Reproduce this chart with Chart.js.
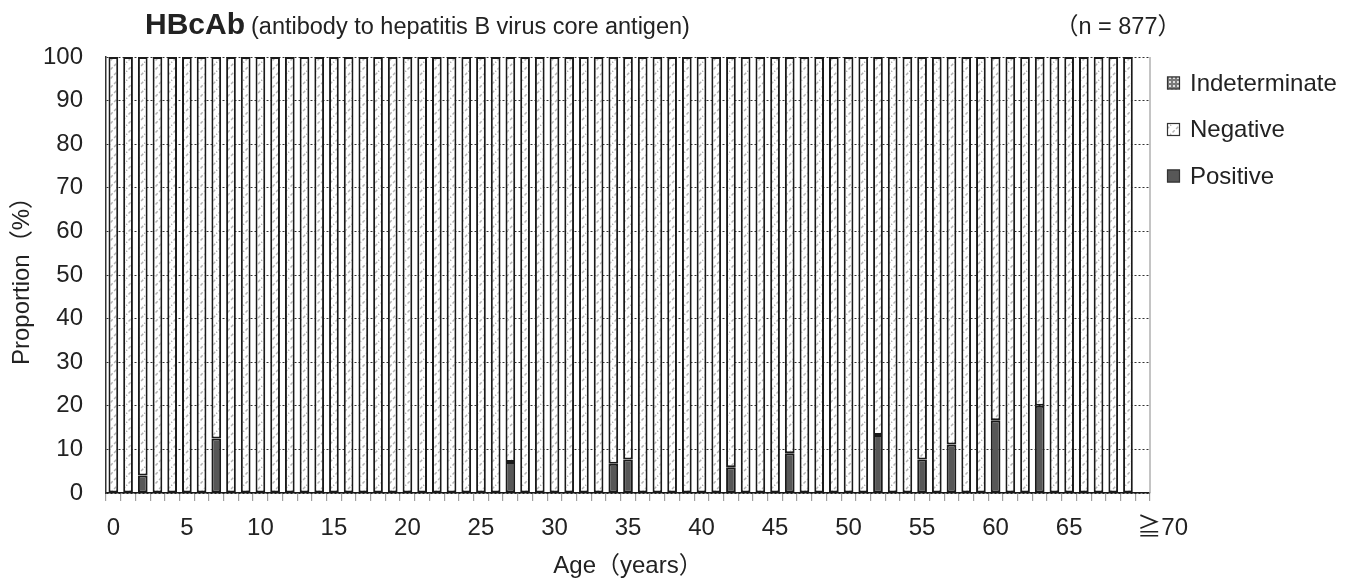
<!DOCTYPE html>
<html>
<head>
<meta charset="utf-8">
<script src="https://cdn.jsdelivr.net/npm/chart.js@4"></script>
<style>
  html, body { margin: 0; padding: 0; background: #fff; }
  #wrap { width: 1354px; height: 585px; }
</style>
</head>
<body>
<div id="wrap"><canvas id="hbcab"></canvas></div>
<script>
var ages = ['0','1','2','3','4','5','6','7','8','9',
            '10','11','12','13','14','15','16','17','18','19',
            '20','21','22','23','24','25','26','27','28','29',
            '30','31','32','33','34','35','36','37','38','39',
            '40','41','42','43','44','45','46','47','48','49',
            '50','51','52','53','54','55','56','57','58','59',
            '60','61','62','63','64','65','66','67','68','69',
            '≧70'];

var positive = [null, null, 4.0, null, null, null, null, 12.5, null, null,
                null, null, null, null, null, null, null, null, null, null,
                null, null, null, null, null, null, null, 7.1, null, null,
                null, null, null, null, 6.7, 7.7, null, null, null, null,
                null, null, 5.9, null, null, null, 9.1, null, null, null,
                null, null, 13.3, null, null, 7.7, null, 11.1, null, null,
                16.7, null, null, 20.0, null, null, null, null, null, null,
                null];

var negative = [100, 100, 96.0, 100, 100, 100, 100, 87.5, 100, 100,
                100, 100, 100, 100, 100, 100, 100, 100, 100, 100,
                100, 100, 100, 100, 100, 100, 100, 92.9, 100, 100,
                100, 100, 100, 100, 93.3, 92.3, 100, 100, 100, 100,
                100, 100, 94.1, 100, 100, 100, 90.9, 100, 100, 100,
                100, 100, 86.7, 100, 100, 92.3, 100, 88.9, 100, 100,
                83.3, 100, 100, 80.0, 100, 100, 100, 100, 100, 100,
                null];

var indeterminate = [null, null, null, null, null, null, null, null, null, null,
                     null, null, null, null, null, null, null, null, null, null,
                     null, null, null, null, null, null, null, null, null, null,
                     null, null, null, null, null, null, null, null, null, null,
                     null, null, null, null, null, null, null, null, null, null,
                     null, null, null, null, null, null, null, null, null, null,
                     null, null, null, null, null, null, null, null, null, null,
                     null];

var yTicks = [0, 10, 20, 30, 40, 50, 60, 70, 80, 90, 100];

var FONT = '"Liberation Sans", Arial, "Noto Sans CJK JP", sans-serif';
var INK = '#222222';

// hatched fill for the negative bars
function makeHatch() {
    var c = document.createElement('canvas');
    c.width = 9; c.height = 9;
    var g = c.getContext('2d');
    g.fillStyle = '#ffffff';
    g.fillRect(0, 0, 9, 9);
    g.strokeStyle = '#b4b4b4';
    g.lineWidth = 1.5;
    g.setLineDash([3, 2]);
    g.beginPath();
    g.moveTo(-1, 10); g.lineTo(10, -1);
    g.stroke();
    return g.createPattern(c, 'repeat');
}

// small squares for indeterminate
function makeDots() {
    var c = document.createElement('canvas');
    c.width = 4; c.height = 4;
    var g = c.getContext('2d');
    g.fillStyle = '#7a7a7a';
    g.fillRect(0, 0, 4, 4);
    g.fillStyle = '#e0e0e0';
    g.fillRect(1, 1, 2, 2);
    return g.createPattern(c, 'repeat');
}

var hatch = makeHatch();
var dots = makeDots();

var extras = {
    id: 'extras',
    afterDraw: function(chart) {
        var ctx = chart.ctx, area = chart.chartArea;
        ctx.save();

        // right frame line
        ctx.strokeStyle = '#b0b0b0';
        ctx.lineWidth = 1.5;
        ctx.beginPath();
        ctx.moveTo(area.right, area.top);
        ctx.lineTo(area.right, area.bottom);
        ctx.stroke();

        // title
        ctx.fillStyle = INK;
        ctx.textBaseline = 'alphabetic';
        ctx.textAlign = 'left';
        ctx.font = 'bold 30px ' + FONT;
        ctx.fillText('HBcAb', 145, 34);
        var w = ctx.measureText('HBcAb').width;
        ctx.font = '23.5px ' + FONT;
        ctx.fillText('(antibody to hepatitis B virus core antigen)', 145 + w + 6, 34);
        ctx.textAlign = 'right';
        ctx.fillText('（n = 877）', 1181, 34);

        // legend, top dataset first
        var sets = chart.data.datasets.slice().reverse();
        ctx.textAlign = 'left';
        ctx.textBaseline = 'middle';
        for (var i = 0; i < sets.length; i++) {
            var y = 83 + i * 46.5;
            ctx.fillStyle = sets[i].backgroundColor;
            ctx.fillRect(1167, y - 6.5, 13, 13);
            ctx.strokeStyle = '#333';
            ctx.lineWidth = 1.2;
            ctx.strokeRect(1167.5, y - 6, 12, 12);
            ctx.fillStyle = INK;
            ctx.font = '24px ' + FONT;
            ctx.fillText(sets[i].label, 1190, y + 1);
        }
        ctx.restore();
    }
};

Chart.defaults.font.family = FONT;
Chart.defaults.color = INK;

var chart = new Chart(document.getElementById('hbcab'), {
    type: 'bar',
    data: {
        labels: ages,
        datasets: [
            { label: 'Positive', data: positive, backgroundColor: '#575757' },
            { label: 'Negative', data: negative, backgroundColor: hatch },
            { label: 'Indeterminate', data: indeterminate, backgroundColor: dots }
        ]
    },
    options: {
        responsive: true,
        maintainAspectRatio: false,
        animation: false,
        layout: { padding: { left: 8, right: 204, top: 57, bottom: 0 } },
        datasets: {
            bar: {
                categoryPercentage: 1,
                barPercentage: 0.66,
                borderColor: '#1a1a1a',
                borderWidth: 2,
                borderSkipped: false
            }
        },
        plugins: {
            legend: { display: false },
            tooltip: { enabled: false }
        },
        scales: {
            x: {
                stacked: true,
                grid: {
                    drawOnChartArea: false,
                    color: '#a0a0a0',
                    tickLength: 8,
                    lineWidth: 1.2
                },
                border: { color: '#1a1a1a', width: 1.5 },
                ticks: {
                    autoSkip: false,
                    maxRotation: 0,
                    padding: 13,
                    font: { size: 24 },
                    callback: function(value, index) {
                        if (index % 5 !== 0) return '';
                        var lab = this.getLabelForValue(value);
                        return index === ages.length - 1 ? '      ' + lab : lab;
                    }
                },
                title: {
                    display: true,
                    text: 'Age（years）',
                    font: { size: 24 },
                    padding: { top: 4, bottom: 4 }
                },
                afterFit: function(scale) { scale.height = 92; }
            },
            y: {
                stacked: true,
                min: 0,
                max: 100,
                afterBuildTicks: function(scale) {
                    scale.ticks = yTicks.map(function(v) { return { value: v }; });
                },
                grid: {
                    color: '#333333',
                    lineWidth: 1,
                    drawTicks: false
                },
                border: { color: '#333333', width: 1.5, dash: [2, 2] },
                ticks: {
                    padding: 23,
                    font: { size: 24 }
                },
                title: {
                    display: true,
                    text: 'Proportion（%）',
                    font: { size: 24 },
                    padding: 0
                },
                afterFit: function(scale) { scale.width = 98; }
            }
        }
    },
    plugins: [extras]
});
</script>
</body>
</html>
